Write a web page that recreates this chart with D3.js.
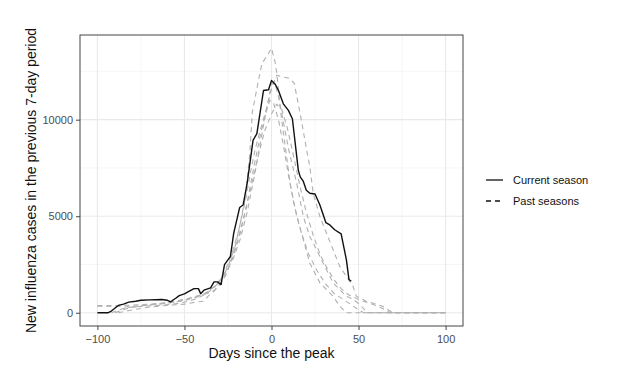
<!DOCTYPE html>
<html>
<head>
<meta charset="utf-8">
<script src="https://cdn.jsdelivr.net/npm/d3@7"></script>
<style>
  body { margin: 0; background: #fff; }
  svg text { font-family: "Liberation Sans", Arial, sans-serif; }
</style>
</head>
<body>
<svg id="chart"></svg>
<script>
// day since peak, new cases in previous 7 days
const currentSeason = [
  [-100,0],[-94,0],[-92,90],[-88,380],[-85,450],[-82,550],[-78,600],[-75,650],[-70,670],
  [-63,690],[-60,650],[-58,570],[-55,750],[-53,890],[-50,980],[-48,1080],[-44.5,1250],
  [-42,1250],[-40.7,990],[-38.8,1170],[-35,1290],[-33,1600],[-31,1600],[-29,1460],
  [-27,2490],[-23.6,2920],[-21.7,4120],[-18.3,5450],[-16.3,5580],[-14,6700],[-10.6,8930],
  [-8.4,9280],[-4.6,11510],[-1.7,11550],[0,12030],[2,11850],[4,11510],[6.8,10820],
  [9.7,10480],[12,10050],[15.4,7390],[16.5,7040],[18.3,6800],[20,6350],[22,6190],[25,6150],
  [27.8,5580],[31.2,4670],[33.5,4550],[36.3,4300],[40,4090],[43,2750],[44.5,1720],[45.8,1630]
];

const pastSeason1 = [
  [-92,0],[-86,200],[-80,300],[-72,350],[-62,400],[-52,500],[-44,700],[-38,950],[-33,1300],
  [-29,1700],[-25,2400],[-21,3400],[-18,4600],[-15,6000],[-12.5,8200],[-11,10400],[-8,11800],
  [-5.5,12900],[-2,13400],[0,13700],[2,13000],[3,12450],[5,10600],[7,9200],[9.7,7400],
  [10.7,6700],[14.5,4980],[18.3,3780],[22,2580],[27.8,1550],[35.4,860],[39.2,340],[43,0],[100,0]
];
const pastSeason2 = [
  [-100,340],[-92,340],[-85,380],[-75,420],[-65,480],[-55,600],[-45,800],[-38,1000],
  [-32,1400],[-27,2000],[-22,2800],[-18,3800],[-14,5200],[-10,7000],[-6,9000],[-3,10500],
  [0,11600],[3,12300],[7,12200],[10,12150],[13,11900],[15,11000],[17.3,9900],[20.2,8420],
  [22,7560],[24,6180],[27.8,4980],[31.6,4120],[35.4,3260],[39.2,2400],[43,1890],[46.8,1370],
  [48.7,860],[54.4,600],[63.9,340],[69.6,0],[100,0]
];
const pastSeason3 = [
  [-90,0],[-82,250],[-72,400],[-62,480],[-52,600],[-45,750],[-40,900],[-36,1150],[-31,1500],
  [-27,2100],[-23,3000],[-19,4200],[-15,5800],[-12,7300],[-9.3,8500],[-6,9600],[-2.6,10650],
  [0,11850],[2,11900],[4,11200],[7,9800],[10,8400],[14.5,6700],[18.3,4980],[22,3950],
  [25.9,3260],[31.6,2230],[35.4,1546],[39.2,1200],[43,860],[47,700],[51,400],[55,0],[100,0]
];
const pastSeason4 = [
  [-100,370],[-91,370],[-84,300],[-74,380],[-64,450],[-55,560],[-47,750],[-41,900],[-37,1000],
  [-33,1150],[-29,1500],[-26,2000],[-22,2900],[-18,4100],[-14,5700],[-10,7600],[-6,9400],
  [-3,10400],[-1,11000],[1,10900],[4,10000],[7,8600],[10,7000],[13,5600],[17,4200],[21,3100],
  [26,2200],[31,1500],[36,1000],[41,700],[46,400],[50,150],[53,0],[100,0]
];
const pastSeason5 = [
  [-88,0],[-80,150],[-70,300],[-60,380],[-50,450],[-43,560],[-39,600],[-36,900],[-33,1110],
  [-28,1700],[-24,2500],[-20,3600],[-16,4900],[-12,6400],[-8,8000],[-4,9400],[0,10300],
  [3,10800],[6,10500],[9,9600],[12,8400],[16,6700],[20,5200],[24,4000],[28,3000],[32,2300],
  [36,1700],[40,1250],[44,950],[48,780],[52,620],[57,480],[62,300],[66,120],[68,0],[100,0]
];
const pastSeasons = [pastSeason1, pastSeason2, pastSeason3, pastSeason4, pastSeason5];

const xTicks = [-100, -50, 0, 50, 100];
const xMinor = [-75, -25, 25, 75];
const yTicks = [0, 5000, 10000];
const yMinor = [2500, 7500, 12500];
const legendLabels = ["Current season", "Past seasons"];

const width = 620, height = 368;
const margin = {top: 35, right: 157, bottom: 42, left: 80};
const innerW = width - margin.left - margin.right;
const innerH = height - margin.top - margin.bottom;

const svg = d3.select("#chart").attr("width", width).attr("height", height);
const chart = svg.append("g").attr("transform", `translate(${margin.left},${margin.top})`);

const xscale = d3.scaleLinear().domain([-110, 110]).range([0, innerW]);
const yscale = d3.scaleLinear().domain([-685, 14385]).range([innerH, 0]);

// grid
chart.selectAll(".gxm").data(xMinor).join("line")
  .attr("x1", d => xscale(d)).attr("x2", d => xscale(d))
  .attr("y1", 0).attr("y2", innerH)
  .attr("stroke", "#f2f0f2").attr("stroke-width", 0.6);
chart.selectAll(".gym").data(yMinor).join("line")
  .attr("y1", d => yscale(d)).attr("y2", d => yscale(d))
  .attr("x1", 0).attr("x2", innerW)
  .attr("stroke", "#f2f0f2").attr("stroke-width", 0.6);
chart.selectAll(".gx").data(xTicks).join("line")
  .attr("x1", d => xscale(d)).attr("x2", d => xscale(d))
  .attr("y1", 0).attr("y2", innerH)
  .attr("stroke", "#ebe8eb").attr("stroke-width", 1.1);
chart.selectAll(".gy").data(yTicks).join("line")
  .attr("y1", d => yscale(d)).attr("y2", d => yscale(d))
  .attr("x1", 0).attr("x2", innerW)
  .attr("stroke", "#ebe8eb").attr("stroke-width", 1.1);

const line = d3.line().x(d => xscale(d[0])).y(d => yscale(d[1]));

// past seasons
chart.selectAll(".past").data(pastSeasons).join("path")
  .attr("d", line)
  .attr("fill", "none")
  .attr("stroke", "#b0b0b0")
  .attr("stroke-width", 1.1)
  .attr("stroke-dasharray", "5,4");

// current season
chart.append("path").datum(currentSeason)
  .attr("d", line)
  .attr("fill", "none")
  .attr("stroke", "#111")
  .attr("stroke-width", 1.4)
  .attr("stroke-linejoin", "round");

// border
chart.append("rect").attr("width", innerW).attr("height", innerH)
  .attr("fill", "none").attr("stroke", "#444").attr("stroke-width", 1);

// axes
const xaxis = d3.axisBottom(xscale).tickValues(xTicks).tickSize(4).tickSizeOuter(0);
const yaxis = d3.axisLeft(yscale).tickValues(yTicks).tickSize(4).tickSizeOuter(0)
  .tickFormat(d3.format("d"));

const xg = chart.append("g").attr("transform", `translate(0,${innerH})`).call(xaxis);
const yg = chart.append("g").call(yaxis);
[xg, yg].forEach(g => {
  g.select(".domain").remove();
  g.selectAll(".tick line").attr("stroke", "#444");
  g.selectAll(".tick text").attr("fill", "#4d4d4d").attr("font-size", 11)
    .attr("font-family", "Liberation Sans, Arial, sans-serif");
});
xg.selectAll(".tick text").attr("dy", "0.9em");

svg.append("text")
  .attr("x", margin.left + innerW / 2).attr("y", 358)
  .attr("text-anchor", "middle").attr("font-size", 14).attr("fill", "#111")
  .text("Days since the peak");

svg.append("text")
  .attr("transform", `translate(36,${margin.top + innerH / 2}) rotate(-90)`)
  .attr("text-anchor", "middle").attr("font-size", 14).attr("fill", "#111")
  .text("New influenza cases in the previous 7-day period");

// legend
const legend = svg.append("g").attr("transform", "translate(486,180)");
legendLabels.forEach((lab, i) => {
  const y = i * 21;
  legend.append("line").attr("x1", 0).attr("x2", 17).attr("y1", y).attr("y2", y)
    .attr("stroke", "#111").attr("stroke-width", 1.3)
    .attr("stroke-dasharray", i === 0 ? null : "5,4");
  legend.append("text").attr("x", 27).attr("y", y + 4)
    .attr("font-size", 11).attr("fill", "#111").text(lab);
});
</script>
</body>
</html>
